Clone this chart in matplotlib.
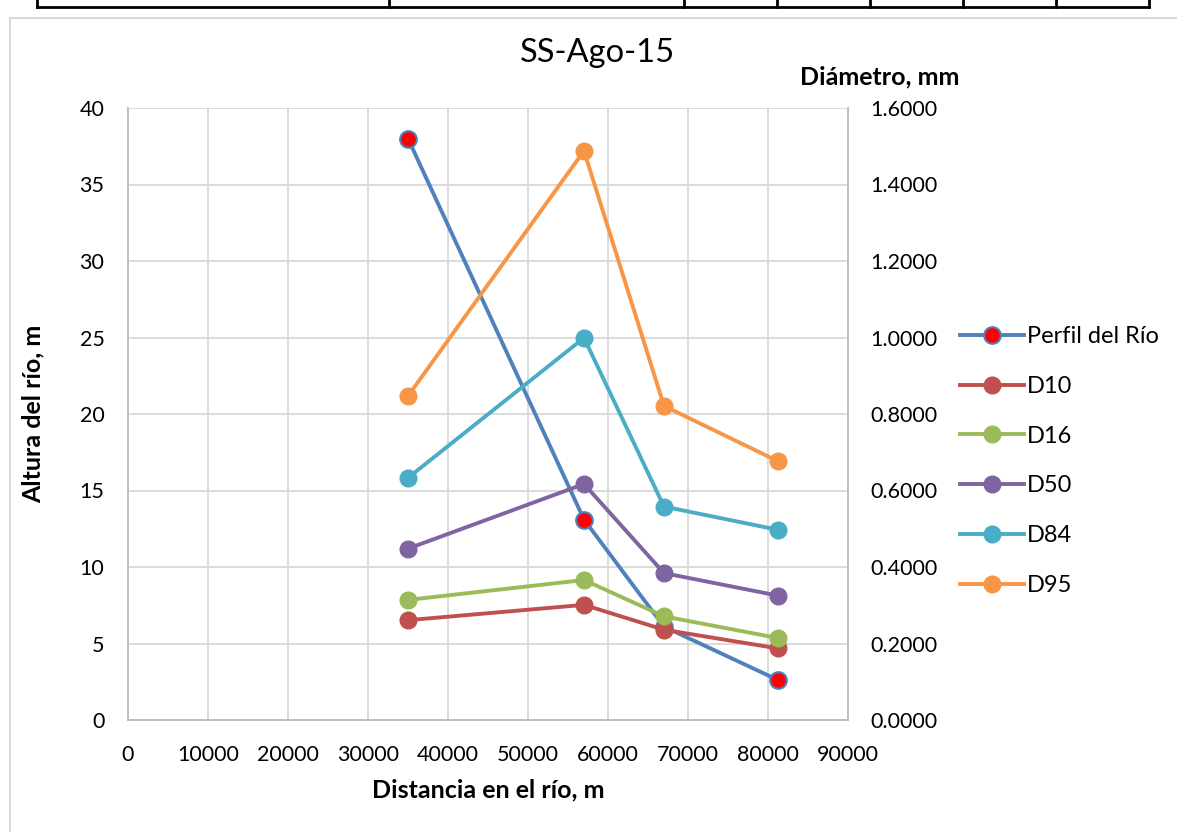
import numpy as np
import matplotlib
matplotlib.use('Agg')
from matplotlib import pyplot as plt
from matplotlib.lines import Line2D

plt.rcParams['font.family'] = ['Lato', 'DejaVu Sans']

# data
distancia = [35000, 57000, 67000, 81300]
perfil = [38.0, 13.1, 6.1, 2.6]
d10 = [0.261, 0.301, 0.236, 0.187]
d16 = [0.314, 0.366, 0.271, 0.214]
d50 = [0.448, 0.617, 0.384, 0.325]
d84 = [0.633, 0.999, 0.558, 0.497]
d95 = [0.847, 1.488, 0.821, 0.676]

series = [("D10", d10, "#c0504d"), ("D16", d16, "#9bbb59"),
          ("D50", d50, "#8064a2"), ("D84", d84, "#4bacc6"),
          ("D95", d95, "#f79646")]

W, H = 1177, 832
fig = plt.figure(figsize=(W/100, H/100), dpi=100)
ax = fig.add_axes([128/W, 1 - 720/H, 720/W, 612/H])
ax2 = ax.twinx()

lw = 2.8
ms = 12
ax.plot(distancia, perfil, color="#4f81bd", lw=lw, marker='o', ms=ms,
        markerfacecolor='red', markeredgecolor='#4f81bd', markeredgewidth=1.5,
        label="Perfil del Río", zorder=3)
for name, vals, c in series:
    ax2.plot(distancia, vals, color=c, lw=lw, marker='o', ms=ms,
             markerfacecolor=c, markeredgecolor=c, label=name)

ax.set_xlim(0, 90000)
ax.set_ylim(0, 40)
ax2.set_ylim(0, 1.6)
ax.set_xticks(np.arange(0, 90001, 10000))
ax.set_yticks(np.arange(0, 41, 5))
ax2.set_yticks(np.arange(0, 1.61, 0.2))
ax2.set_yticklabels([f"{v:.4f}" for v in np.arange(0, 1.61, 0.2)])

ax.grid(True, color='#d9d9d9', lw=1.3)
ax.set_axisbelow(True)
for a in (ax, ax2):
    a.tick_params(length=0, labelsize=15.5)
    a.spines['top'].set_visible(False)
    for s in ('left', 'bottom', 'right'):
        a.spines[s].set_color('#bfbfbf')
        a.spines[s].set_linewidth(1.3)
ax.tick_params(axis='x', pad=18)
ax.tick_params(axis='y', pad=17)
ax2.tick_params(axis='y', pad=16)

fig.text(488/W, 1 - 790/H, "Distancia en el río, m", fontsize=18, fontweight='bold',
         ha='center', va='center')
fig.text(33/W, 1 - 414/H, "Altura del río, m", fontsize=18, fontweight='bold',
         ha='center', va='center', rotation=90)
fig.text(880/W, 1 - 77/H, "Diámetro, mm", fontsize=18, fontweight='bold',
         ha='center', va='center')
fig.text(597/W, 1 - 53/H, "SS-Ago-15", fontsize=23.5, ha='center', va='center')

h1, l1 = ax.get_legend_handles_labels()
h2, l2 = ax2.get_legend_handles_labels()
fig.legend(h1 + h2, l1 + l2, loc='upper left', bbox_to_anchor=(960/W, 1 - 326/H),
           frameon=False, fontsize=17, handlelength=2.7, labelspacing=1.22,
           handletextpad=0.15, borderaxespad=0, borderpad=0)

# frame of the chart area and the table border above it
fig.add_artist(Line2D([10/W, 10/W], [0, 1 - 18/H], color='#d9d9d9', lw=1.5))
fig.add_artist(Line2D([10/W, 1], [1 - 18/H, 1 - 18/H], color='#d9d9d9', lw=1.5))
fig.add_artist(Line2D([37/W, 1149/W], [1 - 7/H, 1 - 7/H], color='black', lw=2))
for xv in [37, 389, 684, 777, 870, 963, 1056, 1149]:
    fig.add_artist(Line2D([xv/W, xv/W], [1 - 7/H, 1], color='black', lw=2))

plt.savefig("out.png", dpi=100)
